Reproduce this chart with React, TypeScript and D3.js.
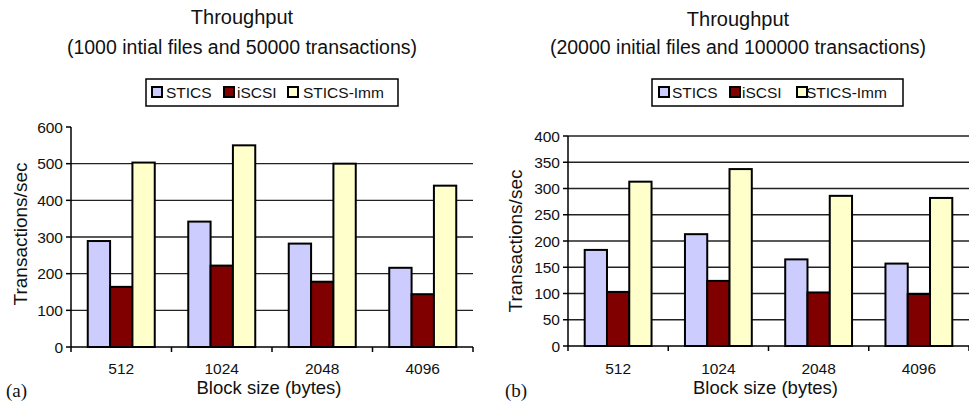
import React from "react";
import * as d3 from "d3";

// Block sizes on the x axis
const blockSizes = ["512", "1024", "2048", "4096"];
const seriesNames = ["STICS", "iSCSI", "STICS-Imm"];
const seriesColors = ["#CCCCFF", "#800000", "#FFFFCC"];

// (a) 1000 initial files, 50000 transactions
const sticsA = [289, 342, 282, 216];
const iscsiA = [164, 222, 178, 144];
const immA = [503, 550, 500, 440];
const ticksA = [0, 100, 200, 300, 400, 500, 600];

// (b) 20000 initial files, 100000 transactions
const sticsB = [183, 213, 165, 157];
const iscsiB = [103, 124, 102, 99];
const immB = [313, 337, 286, 282];
const ticksB = [0, 50, 100, 150, 200, 250, 300, 350, 400];

const FONT = "'Liberation Sans', Arial, Helvetica, sans-serif";
const INK = "#111";

type PanelProps = {
  title: string;
  subtitle: string;
  values: number[][];
  ticks: number[];
  gridTop: boolean;
  left: number;
  right: number;
  top: number;
  bottom: number;
  titleX: number;
  titleY1: number;
  titleY2: number;
  legendBox: [number, number, number, number];
  legendSwatchX: number[];
  legendTextX: number[];
  yTitleX: number;
  yTitleY: number;
  panelLabel: string;
  panelLabelX: number;
};

function Panel(p: PanelProps) {
  const yMax = p.ticks[p.ticks.length - 1];
  const y = d3.scaleLinear().domain([0, yMax]).range([p.bottom, p.top]);
  const x = d3
    .scaleBand<string>()
    .domain(blockSizes)
    .range([p.left, p.right])
    .paddingInner(1 / 3)
    .paddingOuter(1 / 6);
  const xs = d3
    .scaleBand<number>()
    .domain(d3.range(seriesNames.length))
    .range([0, x.bandwidth()]);
  const step = x.step();
  const boundaries = d3.range(blockSizes.length + 1).map((i) => p.left + i * step);
  const [lx, ly, lw, lh] = p.legendBox;

  return (
    <g>
      <text x={p.titleX} y={p.titleY1} textAnchor="middle" fontSize={20} fill={INK}>
        {p.title}
      </text>
      <text x={p.titleX} y={p.titleY2} textAnchor="middle" fontSize={19.5} fill={INK}>
        {p.subtitle}
      </text>

      {/* legend */}
      <rect x={lx} y={ly} width={lw} height={lh} fill="white" stroke="#000" strokeWidth={1.5} />
      {seriesNames.map((name, i) => (
        <g key={name}>
          <rect
            x={p.legendSwatchX[i]}
            y={ly + 8}
            width={10}
            height={10}
            fill={seriesColors[i]}
            stroke="#000"
            strokeWidth={2}
          />
          <text x={p.legendTextX[i]} y={ly + 19} fontSize={15.5} fill={INK}>
            {name}
          </text>
        </g>
      ))}

      {/* gridlines */}
      {p.ticks
        .filter((t) => t > 0 && (p.gridTop || t < yMax))
        .map((t) => (
          <line
            key={"g" + t}
            x1={p.left}
            x2={p.right}
            y1={y(t)}
            y2={y(t)}
            stroke="#222"
            strokeWidth={1.3}
          />
        ))}

      {/* bars */}
      {blockSizes.map((b, ci) => (
        <g key={b} transform={`translate(${x(b)},0)`}>
          {p.values.map((vals, si) => (
            <rect
              key={si}
              x={xs(si)}
              y={y(vals[ci])}
              width={xs.bandwidth()}
              height={y(0) - y(vals[ci])}
              fill={seriesColors[si]}
              stroke="#000"
              strokeWidth={2}
            />
          ))}
        </g>
      ))}

      {/* y axis */}
      <line x1={p.left} x2={p.left} y1={p.top} y2={p.bottom} stroke="#000" strokeWidth={1.5} />
      {p.ticks.map((t) => (
        <g key={"t" + t}>
          <line x1={p.left - 5} x2={p.left} y1={y(t)} y2={y(t)} stroke="#000" strokeWidth={1.5} />
          <text x={p.left - 8} y={y(t) + 5.5} textAnchor="end" fontSize={15.5} fill={INK}>
            {t}
          </text>
        </g>
      ))}

      {/* x axis */}
      <line x1={p.left} x2={p.right} y1={p.bottom} y2={p.bottom} stroke="#000" strokeWidth={1.5} />
      {boundaries.map((bx, i) => (
        <line key={"xb" + i} x1={bx} x2={bx} y1={p.bottom} y2={p.bottom + 5} stroke="#000" strokeWidth={1.5} />
      ))}
      {blockSizes.map((b) => (
        <text key={"xl" + b} x={(x(b) as number) + x.bandwidth() / 2} y={373.5} textAnchor="middle" fontSize={15.5} fill={INK}>
          {b}
        </text>
      ))}

      <text x={(p.left + p.right) / 2 - 3} y={394} textAnchor="middle" fontSize={18.5} fill={INK}>
        Block size (bytes)
      </text>
      <text
        transform={`translate(${p.yTitleX},${p.yTitleY}) rotate(-90)`}
        textAnchor="middle"
        fontSize={19}
        fill={INK}
      >
        Transactions/sec
      </text>

      <text
        x={p.panelLabelX}
        y={397}
        fontSize={19}
        fontFamily="'Liberation Serif', 'Times New Roman', serif"
        fill={INK}
      >
        {p.panelLabel}
      </text>
    </g>
  );
}

export default function App() {
  return (
    <div style={{ position: "absolute", left: 0, top: 0 }}>
      <svg width={969} height={410} style={{ display: "block", fontFamily: FONT }}>
        <rect width={969} height={410} fill="white" />
        <Panel
          title="Throughput"
          subtitle="(1000 intial files and 50000 transactions)"
          values={[sticsA, iscsiA, immA]}
          ticks={ticksA}
          gridTop={false}
          left={71}
          right={473}
          top={127}
          bottom={347}
          titleX={242}
          titleY1={24}
          titleY2={54}
          legendBox={[146, 79, 252, 27]}
          legendSwatchX={[152, 224, 288]}
          legendTextX={[166, 237, 303]}
          yTitleX={26.5}
          yTitleY={234}
          panelLabel="(a)"
          panelLabelX={6}
        />
        <Panel
          title="Throughput"
          subtitle="(20000 initial files and 100000 transactions)"
          values={[sticsB, iscsiB, immB]}
          ticks={ticksB}
          gridTop={true}
          left={568}
          right={969}
          top={136}
          bottom={346}
          titleX={738}
          titleY1={26}
          titleY2={54}
          legendBox={[652, 79, 251, 27]}
          legendSwatchX={[659, 730, 797]}
          legendTextX={[672, 742, 806]}
          yTitleX={521.5}
          yTitleY={241}
          panelLabel="(b)"
          panelLabelX={505}
        />
      </svg>
    </div>
  );
}
